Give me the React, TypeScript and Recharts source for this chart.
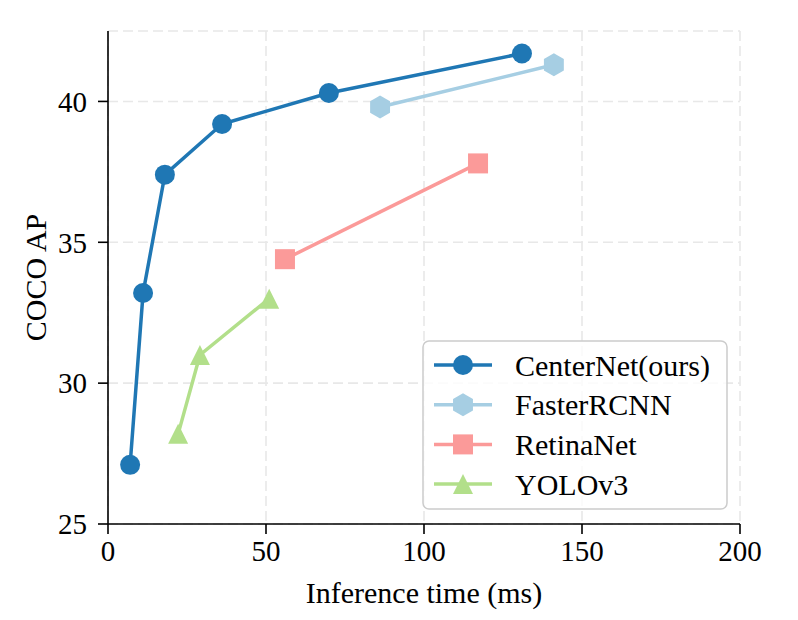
import { LineChart, Line, XAxis, YAxis, CartesianGrid } from "recharts";

// Speed/accuracy trade-off: inference time (ms) vs COCO AP
const centerNetTime = [7.0, 11.1, 18.0, 36.1, 69.9, 131.0];
const centerNetAP = [27.1, 33.2, 37.4, 39.2, 40.3, 41.7];
const fasterTime = [86.1, 141.1];
const fasterAP = [39.8, 41.3];
const retinaTime = [56.0, 117.1];
const retinaAP = [34.4, 37.8];
const yoloTime = [22.2, 29.1, 51.0];
const yoloAP = [28.2, 31.0, 33.0];

const xTicks = [0, 50, 100, 150, 200];
const yTicks = [25, 30, 35, 40];

const FONT = '"Liberation Serif", "Times New Roman", serif';

type MarkerKind = "circle" | "hexagon" | "square" | "triangle";

const toPoints = (xs: number[], ys: number[]) => xs.map((x, i) => ({ x, y: ys[i] }));

const series = [
  { name: "CenterNet(ours)", color: "#1f77b4", marker: "circle" as MarkerKind, data: toPoints(centerNetTime, centerNetAP) },
  { name: "FasterRCNN", color: "#a6cee3", marker: "hexagon" as MarkerKind, data: toPoints(fasterTime, fasterAP) },
  { name: "RetinaNet", color: "#fb9a99", marker: "square" as MarkerKind, data: toPoints(retinaTime, retinaAP) },
  { name: "YOLOv3", color: "#b2df8a", marker: "triangle" as MarkerKind, data: toPoints(yoloTime, yoloAP) },
];

function Marker({ kind, cx, cy, color }: { kind: MarkerKind; cx: number; cy: number; color: string }) {
  if (kind === "circle") return <circle cx={cx} cy={cy} r={10} fill={color} />;
  if (kind === "square") return <rect x={cx - 10} y={cy - 10} width={20} height={20} fill={color} />;
  if (kind === "triangle") {
    return <polygon points={`${cx},${cy - 10} ${cx - 10},${cy + 10} ${cx + 10},${cy + 10}`} fill={color} />;
  }
  const r = 11.5;
  const pts = [0, 60, 120, 180, 240, 300]
    .map((a) => {
      const t = ((a - 90) * Math.PI) / 180;
      return `${cx + r * Math.cos(t)},${cy + r * Math.sin(t)}`;
    })
    .join(" ");
  return <polygon points={pts} fill={color} />;
}

function LegendBox() {
  return (
    <svg width={798} height={620} style={{ position: "absolute", left: 0, top: 0, pointerEvents: "none" }}>
      <rect x={423} y={341} width={304} height={168} rx={6} fill="#fff" fillOpacity={0.8} stroke="#cccccc" strokeWidth={1.5} />
      {series.map((s, i) => {
        const y = 365 + i * 39.7;
        return (
          <g key={s.name}>
            <line x1={434} x2={492} y1={y} y2={y} stroke={s.color} strokeWidth={3.5} />
            <Marker kind={s.marker} cx={463} cy={y} color={s.color} />
            <text x={515} y={y} dominantBaseline="central" fontFamily={FONT} fontSize={30} fill="#000">
              {s.name}
            </text>
          </g>
        );
      })}
    </svg>
  );
}

export default function App() {
  const tick = { fontFamily: FONT, fontSize: 29, fill: "#000" };
  return (
    <div style={{ position: "absolute", left: 0, top: 0, width: 798, height: 620, background: "#fff" }}>
      <LineChart width={798} height={620} margin={{ top: 31, right: 58, bottom: 10, left: 0 }}>
        <CartesianGrid stroke="#e8e8e8" strokeWidth={1.6} strokeDasharray="10 5" />
        <XAxis
          type="number"
          dataKey="x"
          domain={[0, 200]}
          ticks={xTicks}
          allowDataOverflow
          height={86}
          tick={tick}
          tickSize={10}
          tickMargin={6}
          axisLine={{ stroke: "#000", strokeWidth: 1.6 }}
          tickLine={{ stroke: "#000", strokeWidth: 1.6 }}
          label={{
            content: (p: any) => {
              const vb = p.viewBox;
              return (
                <text x={vb.x + vb.width / 2} y={vb.y + 79} textAnchor="middle" fontFamily={FONT} fontSize={30} fill="#000">
                  Inference time (ms)
                </text>
              );
            },
          }}
        />
        <YAxis
          type="number"
          dataKey="y"
          domain={[25, 42.5]}
          ticks={yTicks}
          allowDataOverflow
          width={108}
          tick={tick}
          tickSize={10}
          tickMargin={11}
          axisLine={{ stroke: "#000", strokeWidth: 1.6 }}
          tickLine={{ stroke: "#000", strokeWidth: 1.6 }}
          label={{
            content: (p: any) => {
              const vb = p.viewBox;
              const cx = vb.x + 35;
              const cy = vb.y + vb.height / 2;
              return (
                <text
                  x={cx}
                  y={cy}
                  transform={`rotate(-90 ${cx} ${cy})`}
                  textAnchor="middle"
                  dominantBaseline="central"
                  fontFamily={FONT}
                  fontSize={30}
                  fill="#000"
                >
                  COCO AP
                </text>
              );
            },
          }}
        />
        {series.map((s) => (
          <Line
            key={s.name}
            data={s.data}
            dataKey="y"
            name={s.name}
            type="linear"
            stroke={s.color}
            strokeWidth={3.5}
            isAnimationActive={false}
            dot={(p: any) => <Marker key={`${s.name}-${p.index}`} kind={s.marker} cx={p.cx} cy={p.cy} color={s.color} />}
            activeDot={false}
          />
        ))}
      </LineChart>
      <LegendBox />
    </div>
  );
}
